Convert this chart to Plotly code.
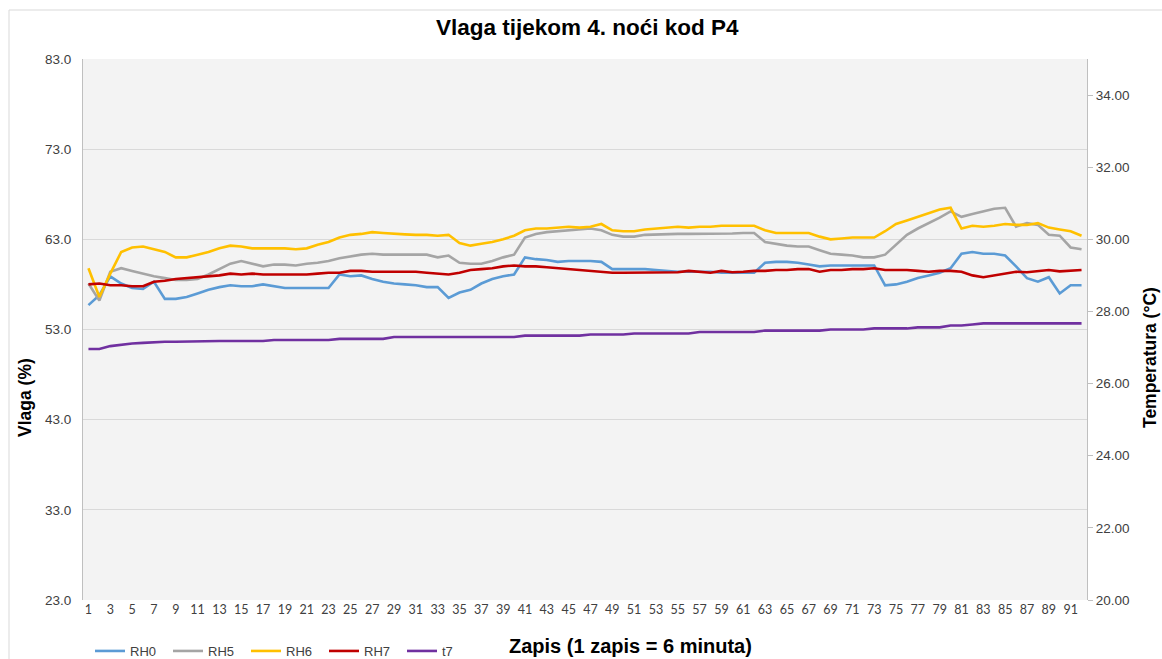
import plotly.graph_objects as go

zapis = list(range(1, 93))

rh0 = [55.7, 56.8, 58.9, 58.1, 57.6, 57.5, 58.3, 56.4, 56.4, 56.6,
       57.0, 57.4, 57.7, 57.9, 57.8, 57.8, 58.0, 57.8, 57.6, 57.6,
       57.6, 57.6, 57.6, 59.1, 58.9, 59.0, 58.6, 58.3, 58.1, 58.0,
       57.9, 57.7, 57.7, 56.5, 57.1, 57.4, 58.1, 58.6, 58.9, 59.1,
       61.0, 60.8, 60.7, 60.5, 60.6, 60.6, 60.6, 60.5, 59.7, 59.7,
       59.7, 59.7, 59.6, 59.5, 59.4, 59.4, 59.4, 59.4, 59.3, 59.3,
       59.3, 59.3, 60.4, 60.5, 60.5, 60.4, 60.2, 60.0, 60.1, 60.1,
       60.1, 60.1, 60.1, 57.9, 58.0, 58.3, 58.7, 59.0, 59.3, 59.8,
       61.4, 61.6, 61.4, 61.4, 61.2, 60.0, 58.7, 58.3, 58.8, 57.0,
       57.9, 57.9]

rh5 = [58.1, 56.2, 59.4, 59.8, 59.5, 59.2, 58.9, 58.7, 58.5, 58.5,
       58.6, 59.1, 59.7, 60.3, 60.6, 60.3, 60.0, 60.2, 60.2, 60.1,
       60.3, 60.4, 60.6, 60.9, 61.1, 61.3, 61.4, 61.3, 61.3, 61.3,
       61.3, 61.3, 61.0, 61.2, 60.4, 60.3, 60.3, 60.6, 61.0, 61.3,
       63.2, 63.6, 63.8, 63.9, 64.0, 64.1, 64.2, 64.0, 63.5, 63.3,
       63.3, 63.5, 63.55, 63.6, 63.6, 63.6, 63.6, 63.6, 63.6, 63.65,
       63.7, 63.7, 62.7, 62.5, 62.3, 62.2, 62.2, 61.8, 61.4, 61.3,
       61.2, 61.0, 61.0, 61.3, 62.4, 63.5, 64.2, 64.8, 65.4, 66.1,
       65.5, 65.8, 66.1, 66.4, 66.5, 64.4, 64.8, 64.6, 63.5, 63.4,
       62.1, 61.9]

rh6 = [59.8, 56.6, 59.2, 61.6, 62.1, 62.2, 61.9, 61.6, 61.0, 61.0,
       61.3, 61.6, 62.0, 62.3, 62.2, 62.0, 62.0, 62.0, 62.0, 61.9,
       62.0, 62.4, 62.7, 63.2, 63.5, 63.6, 63.8, 63.7, 63.6, 63.55,
       63.5, 63.5, 63.4, 63.5, 62.6, 62.3, 62.5, 62.7, 63.0, 63.4,
       64.0, 64.2, 64.2, 64.3, 64.4, 64.3, 64.4, 64.7, 64.0, 63.9,
       63.9, 64.1, 64.2, 64.3, 64.4, 64.3, 64.4, 64.4, 64.5, 64.5,
       64.5, 64.5, 64.0, 63.7, 63.7, 63.7, 63.7, 63.3, 63.0, 63.1,
       63.2, 63.2, 63.2, 63.9, 64.7, 65.1, 65.5, 65.9, 66.3, 66.5,
       64.2, 64.5, 64.4, 64.5, 64.7, 64.6, 64.6, 64.8, 64.3, 64.1,
       63.9, 63.4]

rh7 = [58.0, 58.1, 57.9, 57.9, 57.8, 57.8, 58.3, 58.4, 58.6, 58.7,
       58.8, 58.9, 59.0, 59.2, 59.1, 59.2, 59.1, 59.1, 59.1, 59.1,
       59.1, 59.2, 59.3, 59.3, 59.5, 59.5, 59.4, 59.4, 59.4, 59.4,
       59.4, 59.3, 59.2, 59.1, 59.3, 59.6, 59.7, 59.8, 60.0, 60.1,
       60.0, 60.0, 59.9, 59.8, 59.7, 59.6, 59.5, 59.4, 59.3, 59.3,
       59.3, 59.3, 59.3, 59.3, 59.35, 59.5, 59.4, 59.3, 59.5, 59.35,
       59.4, 59.5, 59.5, 59.6, 59.6, 59.7, 59.7, 59.4, 59.6, 59.6,
       59.7, 59.7, 59.8, 59.6, 59.6, 59.6, 59.5, 59.4, 59.5, 59.5,
       59.4, 59.0, 58.8, 59.0, 59.2, 59.4, 59.35, 59.5, 59.6, 59.45,
       59.5, 59.6]

t7 = [26.96, 26.96, 27.04, 27.08, 27.11, 27.13, 27.15, 27.16, 27.16, 27.17,
      27.18, 27.18, 27.18, 27.18, 27.18, 27.18, 27.18, 27.21, 27.21, 27.21,
      27.21, 27.21, 27.21, 27.24, 27.24, 27.24, 27.24, 27.24, 27.29, 27.29,
      27.29, 27.29, 27.29, 27.29, 27.29, 27.29, 27.29, 27.29, 27.29, 27.29,
      27.33, 27.33, 27.33, 27.33, 27.33, 27.33, 27.36, 27.36, 27.36, 27.36,
      27.39, 27.39, 27.39, 27.39, 27.39, 27.39, 27.43, 27.43, 27.43, 27.43,
      27.43, 27.43, 27.47, 27.47, 27.47, 27.47, 27.47, 27.47, 27.50, 27.50,
      27.50, 27.50, 27.53, 27.53, 27.53, 27.53, 27.56, 27.56, 27.56, 27.61,
      27.61, 27.64, 27.67, 27.67, 27.67, 27.67, 27.67, 27.67, 27.67, 27.67,
      27.67, 27.67]

x_ticks = list(range(1, 92, 2))
left_ticks = [23, 33, 43, 53, 63, 73, 83]
right_ticks = [20, 22, 24, 26, 28, 30, 32, 34]

title_text = "Vlaga tijekom 4. noći kod P4"
x_title = "Zapis (1 zapis = 6 minuta)"
y_title = "Vlaga (%)"
y2_title = "Temperatura (°C)"

series = [("RH0", rh0, "#5b9bd5", "y"),
          ("RH5", rh5, "#a5a5a5", "y"),
          ("RH6", rh6, "#ffc000", "y"),
          ("RH7", rh7, "#c00000", "y"),
          ("t7", t7, "#7030a0", "y2")]

FONT = "Liberation Sans, Arial, sans-serif"
W, H = 1162, 659
ML, MR, MT, MB = 83, 75, 59, 59

def px_x(px):
    return (px - ML) / (W - ML - MR)

def px_y(py):
    return (H - MB - py) / (H - MT - MB)

fig = go.Figure()
for name, vals, col, ax in series:
    fig.add_trace(go.Scatter(x=zapis, y=vals, name=name, mode="lines",
                             line=dict(color=col, width=2.6), yaxis=ax))

def ann(text, cx, cy, size, angle=0):
    return dict(text="<b>" + text + "</b>", x=px_x(cx), y=px_y(cy),
                xref="paper", yref="paper", xanchor="center", yanchor="middle",
                showarrow=False, textangle=angle,
                font=dict(family=FONT, size=size, color="#000000"))

fig.update_layout(
    width=W, height=H,
    margin=dict(l=ML, r=MR, t=MT, b=MB, autoexpand=False),
    paper_bgcolor="white",
    plot_bgcolor="#f3f3f3",
    font=dict(family=FONT, size=13, color="#404040"),
    showlegend=True,
    legend=dict(orientation="h", xref="container", yref="container",
                x=90 / W, xanchor="left", y=1 - 651 / H, yanchor="middle",
                font=dict(family=FONT, size=13, color="#404040"),
                entrywidth=33, entrywidthmode="pixels",
                bgcolor="rgba(0,0,0,0)", itemwidth=30),
    xaxis=dict(range=[0.5, 92.5], tickvals=x_ticks, ticktext=[str(v) for v in x_ticks],
               showgrid=False, zeroline=False, showline=False, ticks="",
               tickfont=dict(family="Lato, Carlito, sans-serif", size=12.5, color="#404040")),
    yaxis=dict(range=[23, 83], tickvals=left_ticks, tickformat=".1f",
               showgrid=True, gridcolor="#d9d9d9", gridwidth=1, zeroline=False,
               showline=True, linecolor="#bfbfbf", linewidth=1, ticks="",
               ticklabelstandoff=8,
               tickfont=dict(family=FONT, size=13.5, color="#404040")),
    yaxis2=dict(range=[20, 35], tickvals=right_ticks, tickformat=".2f",
                overlaying="y", side="right", showgrid=False, zeroline=False,
                showline=True, linecolor="#bfbfbf", linewidth=1,
                ticks="outside", ticklen=5, tickcolor="#bfbfbf",
                tickfont=dict(family=FONT, size=13.5, color="#404040")),
    annotations=[
        ann(title_text, 587, 28, 22.5),
        ann(x_title, 630, 646, 20),
        ann(y_title, 25, 398, 17.5, -90),
        ann(y2_title, 1150, 358, 17.5, -90),
    ],
)

# outer chart border (left and top edges visible)
fig.add_shape(type="line", xref="paper", yref="paper",
              x0=px_x(9), x1=px_x(9), y0=px_y(10), y1=px_y(670),
              line=dict(color="#d9d9d9", width=1))
fig.add_shape(type="line", xref="paper", yref="paper",
              x0=px_x(9), x1=px_x(1170), y0=px_y(10), y1=px_y(10),
              line=dict(color="#d9d9d9", width=1))

fig.write_html("out.html", config={"displayModeBar": False},
               post_script="document.body.style.margin='0';")
